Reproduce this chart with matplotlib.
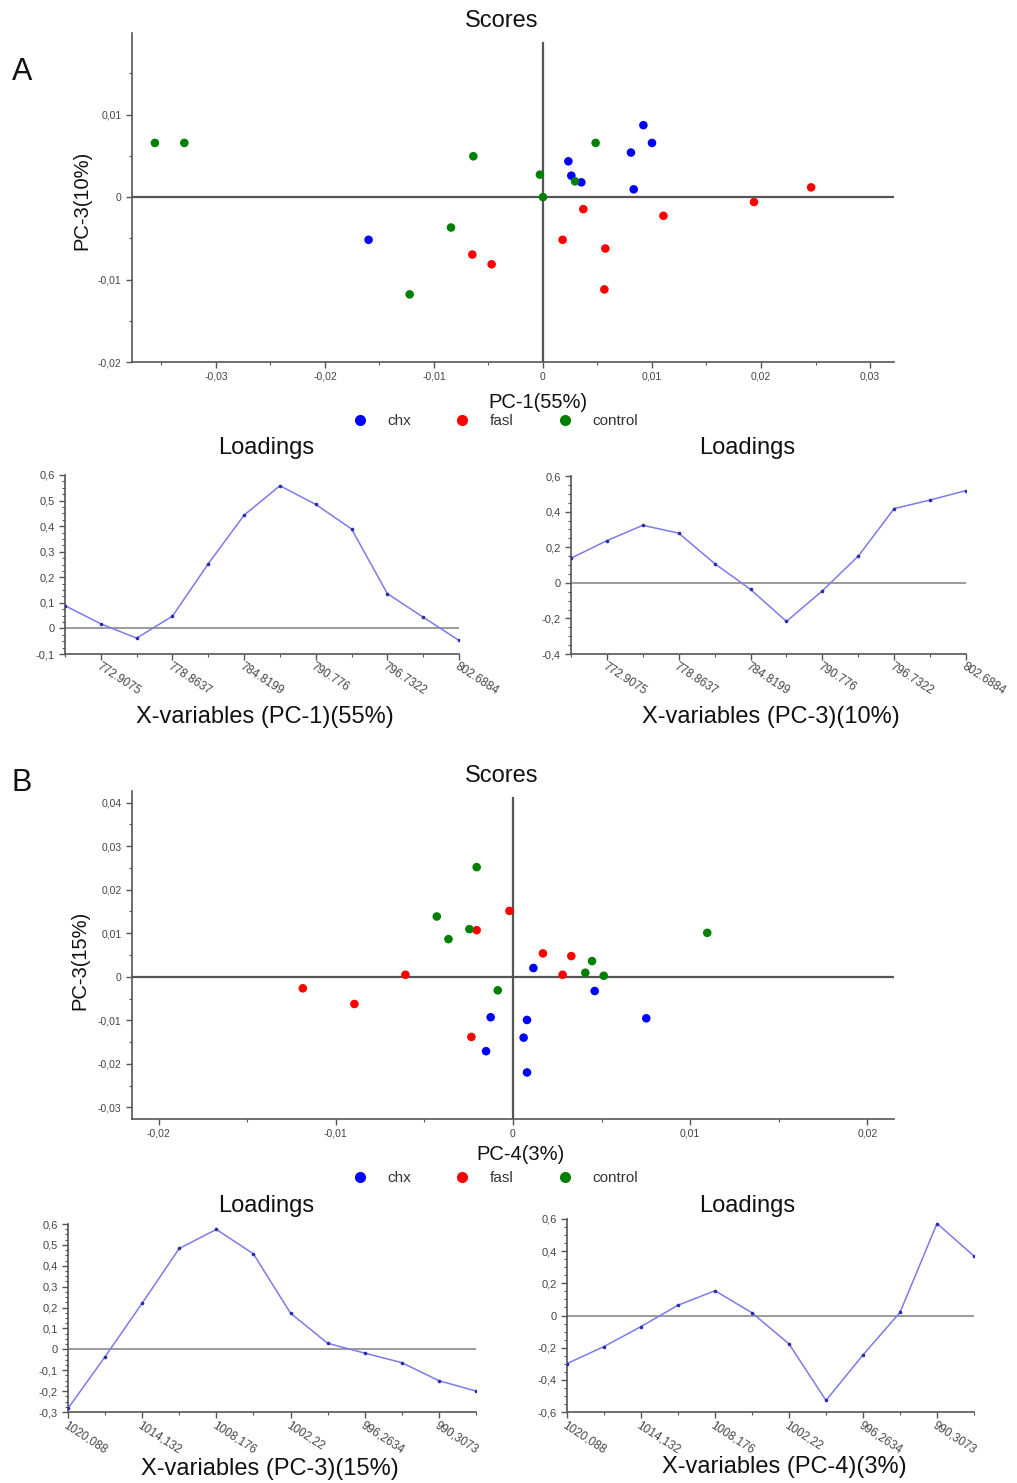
import matplotlib
matplotlib.use("Agg")
import matplotlib.pyplot as plt
from matplotlib.ticker import FuncFormatter, MultipleLocator, FixedLocator
from matplotlib.lines import Line2D

plt.rcParams['font.family'] = ['Liberation Sans', 'DejaVu Sans']

# ---------------- data ----------------
groups = ['chx', 'fasl', 'control']
group_colors = ['#0000ff', '#ff0000', '#008000']

# Panel A scores (PC-1 vs PC-3)
a_chx_x = [-0.0160, 0.00921, 0.0100, 0.00807, 0.00233, 0.0026, 0.00352, 0.00832]
a_chx_y = [-0.00518, 0.00872, 0.00657, 0.0054, 0.00434, 0.0026, 0.00179, 0.00094]
a_fasl_x = [-0.00648, -0.00471, 0.0246, 0.01936, 0.0037, 0.01105, 0.0018, 0.00572, 0.00563]
a_fasl_y = [-0.00697, -0.00815, 0.00118, -0.0006, -0.00146, -0.00227, -0.00518, -0.00624, -0.0112]
a_ctrl_x = [-0.0356, -0.0329, -0.00639, -0.00844, -0.01223, 0.00483, -0.00028, 0.00294, 0.0]
a_ctrl_y = [0.00657, 0.00657, 0.00495, -0.00369, -0.0118, 0.00657, 0.00272, 0.00191, 0.0]

# Panel B scores (PC-4 vs PC-3)
b_chx_x = [-0.00126, -0.00152, 0.00115, 0.00461, 0.00079, 0.00752, 0.0006, 0.00079]
b_chx_y = [-0.00931, -0.01711, 0.0020, -0.00328, -0.00993, -0.00955, -0.0140, -0.0220]
b_fasl_x = [-0.0002, -0.00205, -0.00607, -0.01186, -0.00895, -0.00235, 0.00169, 0.00329, 0.0028]
b_fasl_y = [0.01514, 0.01071, 0.00046, -0.00266, -0.00626, -0.01383, 0.00537, 0.00475, 0.00046]
b_ctrl_x = [-0.00205, -0.0043, -0.00246, -0.00364, -0.00086, 0.01096, 0.00446, 0.00408, 0.00512]
b_ctrl_y = [0.0252, 0.01385, 0.01094, 0.00865, -0.00312, 0.01009, 0.0036, 0.00092, 0.00023]

# Loadings A
a_wavenumbers = [769.9294, 772.9075, 775.8856, 778.8637, 781.8418, 784.8199,
                 787.7980, 790.7760, 793.7541, 796.7322, 799.7103, 802.6884]
a_ticks = [772.9075, 778.8637, 784.8199, 790.7760, 796.7322, 802.6884]
a_ticklabels = ['772.9075', '778.8637', '784.8199', '790.776', '796.7322', '802.6884']
a_load_pc1 = [0.089, 0.018, -0.038, 0.048, 0.253, 0.443, 0.558, 0.485, 0.389, 0.136, 0.044, -0.047]
a_load_pc3 = [0.138, 0.237, 0.323, 0.279, 0.108, -0.037, -0.217, -0.045, 0.150, 0.417, 0.465, 0.518]

# Loadings B
b_wavenumbers = [1020.088, 1017.110, 1014.132, 1011.154, 1008.176, 1005.198,
                 1002.220, 999.2417, 996.2634, 993.2854, 990.3073, 987.3292]
b_ticks = [1020.088, 1014.132, 1008.176, 1002.220, 996.2634, 990.3073]
b_ticklabels = ['1020,088', '1014,132', '1008,176', '1002,22', '996,2634', '990,3073']
b_load_pc3 = [-0.283, -0.035, 0.221, 0.483, 0.574, 0.457, 0.173, 0.029, -0.018, -0.064, -0.150, -0.200]
b_load_pc4 = [-0.299, -0.193, -0.069, 0.064, 0.154, 0.017, -0.177, -0.528, -0.245, 0.019, 0.572, 0.370]

# ---------------- layout helpers ----------------
W, H = 1017, 1483
fig = plt.figure(figsize=(W / 100, H / 100), dpi=100)
fig.patch.set_facecolor('white')


def px_axes(l, t, r, b):
    return fig.add_axes([l / W, 1 - b / H, (r - l) / W, (b - t) / H])


def ftext(x, y, s, **kw):
    fig.text(x / W, 1 - y / H, s, **kw)


def comma_fmt(dec):
    def f(v, p):
        if abs(v) < 1e-12:
            return '0'
        return f"{v:.{dec}f}".replace('.', ',')
    return FuncFormatter(f)


SPINE = '#555555'
TICKC = '#444444'


def style_axes(ax):
    for s in ['top', 'right']:
        ax.spines[s].set_visible(False)
    for s in ['left', 'bottom']:
        ax.spines[s].set_color(SPINE)
        ax.spines[s].set_linewidth(1.2)
    ax.tick_params(which='major', length=4, width=1, color=SPINE, labelsize=7.5, labelcolor=TICKC)
    ax.tick_params(which='minor', length=2.5, width=0.8, color=SPINE)
    ax.set_facecolor('white')


def scores(ax, data, xlim, ylim, vmax):
    for (xs, ys), c, g in zip(data, group_colors, groups):
        ax.scatter(xs, ys, s=38, color=c, edgecolors='none', zorder=3, label=g)
    ax.axhline(0, color='#555555', lw=1.6, zorder=1)
    ax.axvline(0, ymax=vmax, color='#555555', lw=1.6, zorder=1)
    ax.set_xlim(*xlim)
    ax.set_ylim(*ylim)
    style_axes(ax)
    ax.xaxis.set_major_locator(MultipleLocator(0.01))
    ax.xaxis.set_minor_locator(MultipleLocator(0.005))
    ax.yaxis.set_major_locator(MultipleLocator(0.01))
    ax.yaxis.set_minor_locator(MultipleLocator(0.005))
    ax.xaxis.set_major_formatter(comma_fmt(2))
    ax.yaxis.set_major_formatter(comma_fmt(2))
    ax.tick_params(axis='x', pad=3)


def legend(ax, y):
    handles = [Line2D([], [], marker='o', linestyle='none', markersize=8,
                      markerfacecolor=c, markeredgecolor='none') for c in group_colors]
    leg = fig.legend(handles, groups, loc='center left',
                     bbox_to_anchor=(352 / W, 1 - y / H), ncol=3, frameon=False,
                     fontsize=11, handlelength=1.0, handletextpad=1.3,
                     columnspacing=2.85, borderaxespad=0, borderpad=0)
    for t in leg.get_texts():
        t.set_color('#333333')


def loadings(ax, xs, ys, ticks, ticklabels, ylim, ymajor, yminor):
    ax.plot(xs, ys, color='#7b7bea', lw=1.1, marker='o', markersize=1.6,
            markerfacecolor='#2b2bb0', markeredgecolor='#2b2bb0', zorder=3)
    ax.axhline(0, color='#8a8a8a', lw=1.2, zorder=1)
    ax.set_xlim(xs[0], xs[-1])
    ax.set_ylim(*ylim)
    style_axes(ax)
    ax.xaxis.set_major_locator(FixedLocator(ticks))
    ax.xaxis.set_minor_locator(FixedLocator(xs))
    ax.set_xticklabels(ticklabels, rotation=-33, ha='left', va='top',
                       rotation_mode='anchor', fontsize=8.5, color=TICKC)
    ax.yaxis.set_major_locator(MultipleLocator(ymajor))
    ax.yaxis.set_minor_locator(MultipleLocator(yminor))
    ax.yaxis.set_major_formatter(comma_fmt(1))
    ax.tick_params(axis='y', labelsize=8)
    ax.tick_params(axis='x', pad=1)


# ---------------- Panel A ----------------
axA = px_axes(132, 33, 894, 362)
scores(axA, [(a_chx_x, a_chx_y), (a_fasl_x, a_fasl_y), (a_ctrl_x, a_ctrl_y)],
       (-0.0377, 0.0322), (-0.02, 0.0199), 0.97)
ftext(22, 72, 'A', fontsize=22, ha='center', va='center', color='#111111')
ftext(502, 21, 'Scores', fontsize=17, ha='center', va='center', color='#111111')
ftext(538, 402, 'PC-1(55%)', fontsize=14.5, ha='center', va='center', color='#111111')
ftext(82, 200, 'PC-3(10%)', fontsize=14.5, ha='center', va='center', rotation=90, color='#111111')
legend(axA, 421)

axL1 = px_axes(65, 475, 459, 654)
loadings(axL1, a_wavenumbers, a_load_pc1, a_ticks, a_ticklabels, (-0.1, 0.6), 0.1, 0.025)
ftext(266, 448, 'Loadings', fontsize=17, ha='center', va='center', color='#111111')
ftext(265, 717, 'X-variables (PC-1)(55%)', fontsize=17, ha='center', va='center', color='#111111')

axL2 = px_axes(571, 476, 966, 654)
loadings(axL2, a_wavenumbers, a_load_pc3, a_ticks, a_ticklabels, (-0.4, 0.6), 0.2, 0.05)
ftext(747, 448, 'Loadings', fontsize=17, ha='center', va='center', color='#111111')
ftext(771, 717, 'X-variables (PC-3)(10%)', fontsize=17, ha='center', va='center', color='#111111')

# ---------------- Panel B ----------------
axB = px_axes(132, 791, 894, 1119)
scores(axB, [(b_chx_x, b_chx_y), (b_fasl_x, b_fasl_y), (b_ctrl_x, b_ctrl_y)],
       (-0.0215, 0.0215), (-0.0327, 0.0427), 0.979)
ftext(22, 783, 'B', fontsize=22, ha='center', va='center', color='#111111')
ftext(502, 776, 'Scores', fontsize=17, ha='center', va='center', color='#111111')
ftext(521, 1155, 'PC-4(3%)', fontsize=14.5, ha='center', va='center', color='#111111')
ftext(80, 960, 'PC-3(15%)', fontsize=14.5, ha='center', va='center', rotation=90, color='#111111')
legend(axB, 1178)

axL3 = px_axes(68, 1224, 476, 1412)
loadings(axL3, b_wavenumbers, b_load_pc3, b_ticks, b_ticklabels, (-0.3, 0.6), 0.1, 0.025)
ftext(266, 1206, 'Loadings', fontsize=17, ha='center', va='center', color='#111111')
ftext(270, 1469, 'X-variables (PC-3)(15%)', fontsize=17, ha='center', va='center', color='#111111')

axL4 = px_axes(567, 1219, 974, 1412)
loadings(axL4, b_wavenumbers, b_load_pc4, b_ticks, b_ticklabels, (-0.6, 0.6), 0.2, 0.05)
ftext(747, 1206, 'Loadings', fontsize=17, ha='center', va='center', color='#111111')
ftext(784, 1467, 'X-variables (PC-4)(3%)', fontsize=17, ha='center', va='center', color='#111111')

fig.savefig('out.png', dpi=100, facecolor='white')
